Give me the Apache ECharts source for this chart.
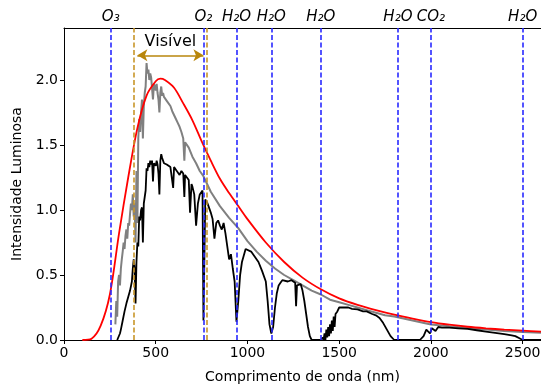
<!DOCTYPE html>
<html>
<head>
<meta charset="utf-8">
<script src="https://cdn.jsdelivr.net/npm/echarts@6/dist/echarts.min.js"></script>
<style>
  html, body { margin: 0; padding: 0; background: #fff; }
  #chart { width: 541px; height: 385px; }
</style>
</head>
<body>
<div id="chart"></div>
<script>
// curva do corpo negro (vermelho)
var redNm  = [100, 150, 200, 250, 300, 350, 400, 450, 500, 525, 550, 600, 650, 700, 750, 800, 850, 900, 950, 1000,
              1100, 1200, 1300, 1400, 1500, 1600, 1700, 1800, 1900, 2000, 2100, 2200, 2300, 2400, 2500, 2600];
var redVal = [0, 0.01, 0.11, 0.35, 0.82, 1.25, 1.63, 1.88, 1.99, 2.01, 2.0, 1.94, 1.82, 1.69, 1.53, 1.38, 1.24, 1.13, 1.03, 0.93,
              0.75, 0.60, 0.48, 0.39, 0.32, 0.27, 0.23, 0.195, 0.165, 0.138, 0.118, 0.102, 0.09, 0.08, 0.072, 0.064];

// espectro fora da atmosfera (cinza)
var grayNm  = [280, 285, 290, 295, 300, 305, 310, 315, 320, 325, 330, 335, 340, 345, 350, 355, 360, 365, 370, 375,
               380, 385, 390, 395, 400, 405, 410, 415, 420, 425, 430, 435, 440, 445, 450, 455, 460, 465, 470, 475,
               480, 485, 490, 495, 500, 505, 510, 515, 520, 525, 530, 535, 540, 545, 550, 560, 570, 580, 590, 600,
               610, 620, 630, 640, 650, 656, 660, 680, 700, 720, 740, 760, 780, 800, 850, 900, 950, 1000, 1050, 1100,
               1150, 1200, 1250, 1300, 1350, 1400, 1450, 1500, 1550, 1600, 1650, 1700, 1750, 1800, 1850, 1900, 1950, 2000,
               2100, 2200, 2300, 2400, 2500, 2600];
var grayVal = [0.12, 0.3, 0.18, 0.45, 0.5, 0.42, 0.55, 0.62, 0.68, 0.75, 0.7, 0.8, 0.85, 0.78, 0.9, 0.88, 0.97, 1.05, 1.0, 1.12,
               0.95, 1.05, 0.75, 1.3, 0.9, 1.55, 1.7, 1.6, 1.75, 1.85, 1.55, 1.8, 1.9, 1.95, 2.13, 2.05, 2.08, 2.0, 2.05, 2.02,
               2.03, 1.85, 1.97, 1.95, 1.92, 1.97, 1.9, 1.85, 1.75, 1.9, 1.95, 1.88, 1.9, 1.87, 1.86, 1.84, 1.83, 1.8, 1.76, 1.75,
               1.7, 1.67, 1.64, 1.6, 1.55, 1.38, 1.52, 1.48, 1.41, 1.36, 1.30, 1.26, 1.20, 1.14, 1.03, 0.94, 0.86, 0.76, 0.68, 0.61,
               0.55, 0.50, 0.46, 0.42, 0.38, 0.35, 0.31, 0.29, 0.27, 0.25, 0.23, 0.21, 0.19, 0.18, 0.165, 0.15, 0.135, 0.12,
               0.105, 0.092, 0.08, 0.07, 0.062, 0.055];

// espectro na superfície (preto)
var blackNm  = [290, 297, 305, 310, 320, 330, 340, 350, 360, 370, 375, 380, 385, 390, 395, 400, 405, 410, 415, 420,
                425, 430, 435, 440, 445, 450, 455, 460, 465, 470, 475, 480, 485, 490, 495, 500, 505, 510, 515, 520,
                525, 530, 535, 540, 545, 550, 560, 570, 580, 590, 595, 600, 610, 620, 630, 640, 650, 656, 660, 670,
                680, 687, 695, 700, 710, 720, 730, 740, 750, 755, 760, 765, 770, 780, 790, 800, 810, 820, 830, 840,
                850, 860, 870, 880, 890, 900, 910, 920, 930, 940, 950, 960, 970, 980, 990, 1000, 1020, 1040, 1060, 1080,
                1100, 1110, 1120, 1130, 1140, 1150, 1160, 1170, 1180, 1190, 1200, 1220, 1240, 1260, 1265, 1270, 1290, 1300, 1310, 1320,
                1330, 1340, 1350, 1400, 1410, 1415, 1420, 1425, 1430, 1435, 1440, 1445, 1450, 1455, 1460, 1465, 1470, 1475, 1480, 1490,
                1500, 1510, 1530, 1550, 1570, 1600,
                1630, 1650, 1680, 1700, 1720, 1740, 1760, 1780, 1800, 1940, 1960, 1975, 1985, 1995, 2005, 2015, 2025, 2040, 2060, 2100,
                2150, 2200, 2250, 2300, 2350, 2400, 2440, 2460, 2480, 2500, 2600];
var blackVal = [0, 0, 0.05, 0.08, 0.15, 0.22, 0.28, 0.33, 0.38, 0.45, 0.55, 0.62, 0.55, 0.28, 0.6, 0.75, 0.72, 0.95, 0.92, 1.0,
                1.02, 0.75, 1.05, 1.1, 1.15, 1.32, 1.3, 1.36, 1.33, 1.38, 1.35, 1.38, 1.22, 1.36, 1.35, 1.34, 1.38, 1.35, 1.28, 1.12,
                1.38, 1.43, 1.4, 1.38, 1.36, 1.37, 1.35, 1.34, 1.33, 1.32, 1.17, 1.33, 1.31, 1.30, 1.27, 1.30, 1.28, 1.1, 1.27, 1.25,
                1.23, 0.98, 1.2, 1.18, 1.12, 0.88, 1.05, 1.12, 1.13, 1.15, 0.15, 0.6, 1.08, 1.06, 1.02, 0.98, 0.93, 0.78, 0.9, 0.92,
                0.88, 0.85, 0.9, 0.82, 0.72, 0.62, 0.66, 0.55, 0.45, 0.14, 0.3, 0.5, 0.6, 0.65, 0.7, 0.7, 0.68, 0.64, 0.6, 0.53,
                0.45, 0.3, 0.12, 0.05, 0.1, 0.25, 0.36, 0.42, 0.44, 0.46, 0.45, 0.45, 0.46, 0.44, 0.26, 0.42, 0.43, 0.38, 0.3, 0.2,
                0.1, 0.03, 0, 0, 0.02, 0.0, 0.05, 0.0, 0.08, 0.02, 0.1, 0.03, 0.12, 0.05, 0.15, 0.07, 0.18, 0.1, 0.2, 0.22,
                0.25, 0.26, 0.25, 0.25, 0.24, 0.235,
                0.22, 0.22, 0.2, 0.19, 0.17, 0.13, 0.08, 0.03, 0, 0, 0.03, 0.08, 0.09, 0.05, 0.09, 0.1, 0.07, 0.1, 0.095, 0.095,
                0.09, 0.085, 0.075, 0.065, 0.055, 0.045, 0.035, 0.03, 0.015, 0, 0];

// linhas de absorção (azul) e limites do visível (laranja)
var absNm    = [255, 760, 940, 1130, 1400, 1820, 2000, 2500];
var absLabel = ['O₃', 'O₂', 'H₂O', 'H₂O', 'H₂O', 'H₂O', 'CO₂', 'H₂O'];
var visNm    = [380, 780];
var arrowNm  = [400, 760];
var arrowY   = 2.19;

function zip(a, b) {
    return a.map(function (v, i) { return [v, b[i]]; });
}

var FONT = 'DejaVu Sans';

var option = {
    animation: false,
    textStyle: { fontFamily: FONT },
    grid: { left: 64, right: 0, top: 28, bottom: 45, outerBoundsMode: 'none', containLabel: false },
    xAxis: [{
        type: 'value', min: 0, max: 2600, interval: 500,
        name: 'Comprimento de onda (nm)', nameLocation: 'middle', nameGap: 30,
        nameTextStyle: { color: '#000', fontSize: 14, fontFamily: FONT },
        axisLine: { show: true, lineStyle: { color: '#000', width: 1 } },
        axisTick: { show: true, length: 4, lineStyle: { color: '#000' } },
        axisLabel: {
            color: '#000', fontSize: 14, fontFamily: FONT, margin: 6, showMaxLabel: false,
            formatter: function (v) { return String(v); }
        },
        splitLine: { show: false }
    }, {
        type: 'value', min: 0, max: 2600, position: 'top',
        axisLine: { show: true, lineStyle: { color: '#000', width: 1 } },
        axisTick: { show: false }, axisLabel: { show: false }, splitLine: { show: false }
    }],
    yAxis: {
        type: 'value', min: 0, max: 2.4, interval: 0.5,
        name: 'Intensidade Luminosa', nameLocation: 'middle', nameGap: 40,
        nameTextStyle: { color: '#000', fontSize: 14, fontFamily: FONT },
        axisLine: { show: true, lineStyle: { color: '#000', width: 1 } },
        axisTick: { show: true, length: 4, lineStyle: { color: '#000' } },
        axisLabel: {
            color: '#000', fontSize: 14, fontFamily: FONT, margin: 6, showMaxLabel: false,
            formatter: function (v) { return v.toFixed(1); }
        },
        splitLine: { show: false }
    },
    series: [
        {
            type: 'line', name: 'cinza', data: zip(grayNm, grayVal), showSymbol: false,
            lineStyle: { color: '#808080', width: 2 }, z: 2
        },
        {
            type: 'line', name: 'preto', data: zip(blackNm, blackVal), showSymbol: false,
            lineStyle: { color: '#000', width: 1.8 }, z: 3
        },
        {
            type: 'line', name: 'vermelho', data: zip(redNm, redVal), showSymbol: false, smooth: 0.3,
            lineStyle: { color: '#ff0000', width: 1.8 }, z: 4
        },
        {
            // linhas verticais
            type: 'line', data: [], z: 5,
            markLine: {
                silent: true, symbol: 'none', animation: false,
                data: absNm.map(function (nm, i) {
                    return {
                        xAxis: nm,
                        lineStyle: { color: '#2a2aff', type: [5, 2.5], width: 1.6 },
                        label: {
                            show: true, position: 'end', distance: 3, formatter: absLabel[i],
                            color: '#000', fontSize: 15, fontStyle: 'italic', fontFamily: FONT
                        }
                    };
                }).concat(visNm.map(function (nm) {
                    return {
                        xAxis: nm,
                        lineStyle: { color: '#c8962a', type: [5, 2.5], width: 1.6 },
                        label: { show: false }
                    };
                })).concat([[
                    {
                        coord: [arrowNm[0], arrowY], symbol: 'arrow', symbolSize: [9, 10],
                        lineStyle: { color: '#b8860b', type: 'solid', width: 1.5 },
                        label: {
                            show: true, position: 'insideMiddleTop', distance: 5, formatter: 'Visível',
                            color: '#000', fontSize: 16, fontFamily: FONT
                        }
                    },
                    { coord: [arrowNm[1], arrowY], symbol: 'arrow', symbolSize: [9, 10] }
                ]])
            }
        }
    ]
};

var mychart = echarts.init(document.getElementById('chart'), null, { renderer: 'canvas' });
option && mychart.setOption(option);
</script>
</body>
</html>
